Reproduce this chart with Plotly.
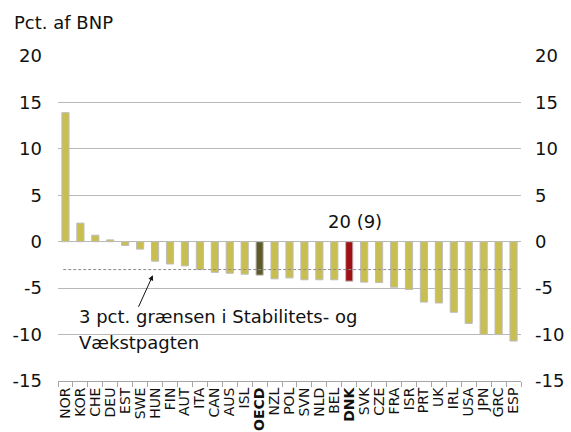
import plotly.graph_objects as go

countries = ["NOR", "KOR", "CHE", "DEU", "EST", "SWE", "HUN", "FIN", "AUT", "ITA",
             "CAN", "AUS", "ISL", "OECD", "NZL", "POL", "SVN", "NLD", "BEL", "DNK",
             "SVK", "CZE", "FRA", "ISR", "PRT", "UK", "IRL", "USA", "JPN", "GRC", "ESP"]
balance = [13.9, 2.0, 0.7, 0.2, -0.4, -0.8, -2.1, -2.4, -2.6, -3.0,
           -3.3, -3.4, -3.5, -3.6, -4.0, -3.9, -4.1, -4.1, -4.1, -4.25,
           -4.35, -4.4, -4.9, -5.15, -6.5, -6.6, -7.6, -8.8, -10.0, -10.0, -10.7]
bold_labels = ["OECD", "DNK"]
y_ticks = [-15, -10, -5, 0, 5, 10, 15, 20]
y_tick_labels = ["-15", "-10", "-5", "0", "5", "10", "15", "20"]
limit_value = -3
dnk_note = "20 (9)"

base_color = "#C8BF50"
special_colors = {"OECD": "#5E5A2A", "DNK": "#A01014"}
colors = [special_colors.get(c, base_color) for c in countries]
tick_text = [f"<b>{c}</b>" if c in bold_labels else c for c in countries]

FONT = "DejaVu Sans"

fig = go.Figure()
fig.add_trace(go.Bar(
    x=countries, y=balance, width=0.48,
    marker=dict(color=colors, line=dict(color="#BDBDBD", width=1)),
    hoverinfo="skip", showlegend=False,
))
fig.add_trace(go.Scatter(
    x=[countries[0]], y=[0], yaxis="y2", mode="markers",
    marker=dict(opacity=0), hoverinfo="skip", showlegend=False,
))

fig.add_shape(type="line", xref="x", yref="y", x0=-0.15, x1=len(countries) - 1,
              y0=limit_value, y1=limit_value, layer="above",
              line=dict(color="#8C8C8C", width=1, dash="3px,2px"))

fig.update_layout(
    width=571, height=432,
    margin=dict(l=58, r=50, t=56, b=51),
    paper_bgcolor="white", plot_bgcolor="white",
    font=dict(family=FONT, size=18, color="#111111"),
    bargap=0.5,
    xaxis=dict(
        type="category", range=[-0.5, len(countries) - 0.5],
        tickmode="array", tickvals=countries, ticktext=tick_text,
        tickangle=-90, tickfont=dict(size=14, family=FONT, color="#111111"),
        ticks="outside", tickson="boundaries", ticklen=5, tickcolor="#A6A6A6",
        showline=True, linecolor="#A6A6A6", linewidth=1,
        showgrid=False, automargin=False,
    ),
    yaxis=dict(
        range=[-15, 20], tickmode="array", tickvals=y_ticks, ticktext=y_tick_labels,
        showgrid=True, gridcolor="#B8B8B8", gridwidth=1,
        zeroline=False, ticks="", ticklabelstandoff=15,
        tickfont=dict(size=18), automargin=False, layer="below traces",
    ),
    yaxis2=dict(
        range=[-15, 20], tickmode="array", tickvals=y_ticks, ticktext=y_tick_labels,
        overlaying="y", side="right", showgrid=False, zeroline=False,
        ticks="", ticklabelstandoff=13, tickfont=dict(size=18),
        automargin=False,
    ),
    annotations=[
        dict(text="Pct. af BNP", xref="paper", yref="paper",
             x=(12 - 58) / 463, y=(381 - 22) / 325,
             xanchor="left", yanchor="middle", showarrow=False),
        dict(text=dnk_note, xref="x", yref="y", x=19.4, y=2.15,
             xanchor="center", yanchor="middle", showarrow=False),
        dict(text="3 pct. grænsen i Stabilitets- og", xref="paper", yref="y",
             x=(77 - 58) / 463, y=-8.1, xanchor="left", yanchor="middle",
             showarrow=False),
        dict(text="Vækstpagten", xref="paper", yref="y",
             x=(77 - 58) / 463, y=-10.9, xanchor="left", yanchor="middle",
             showarrow=False),
        dict(text="", xref="x", yref="y", x=5.85, y=-3.62,
             ax=-15, ay=33, showarrow=True, arrowhead=2, arrowsize=1,
             arrowwidth=1, arrowcolor="#111111"),
    ],
)

fig.write_html("out.html", config={"displayModeBar": False},
               post_script="document.body.style.margin='0';document.body.style.overflow='hidden';")
